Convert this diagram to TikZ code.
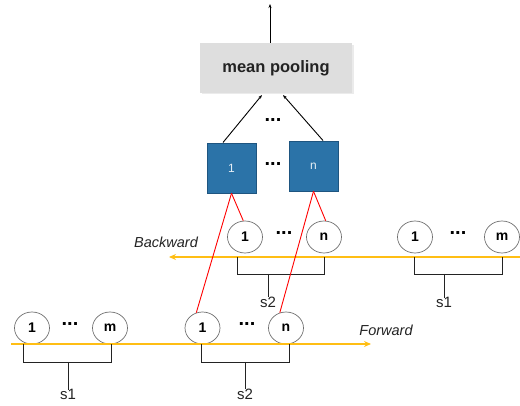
\documentclass[tikz,border=0pt]{standalone}
\usepackage{fontspec}
\setmainfont{Liberation Sans}
\usetikzlibrary{arrows.meta,shapes.geometric}
\definecolor{boxblue}{RGB}{43,115,168}
\definecolor{boxblueedge}{RGB}{30,85,128}
\definecolor{poolgray}{RGB}{222,222,222}
\definecolor{amber}{RGB}{255,190,20}
\definecolor{ringgray}{RGB}{110,110,110}
\definecolor{inkdark}{RGB}{35,35,35}
\begin{document}
\begin{tikzpicture}[x=1pt,y=-1pt,
  poolbox/.style={rectangle,fill=poolgray,minimum width=152pt,minimum height=50pt,inner sep=0pt,
    font=\fontsize{16.5}{19}\selectfont\bfseries,text=inkdark},
  bluebox/.style={rectangle,fill=boxblue,draw=boxblueedge,line width=0.6pt,minimum width=49pt,minimum height=50pt,inner sep=0pt,
    font=\fontsize{12}{14}\selectfont,text=white!88!boxblue},
  tok/.style={ellipse,draw=ringgray,line width=0.7pt,fill=white,minimum width=35pt,minimum height=32pt,inner sep=0pt,
    font=\fontsize{14}{16}\selectfont\bfseries,text=black},
  dotsnode/.style={inner sep=0pt,font=\fontsize{20}{20}\selectfont\bfseries,text=black},
  seglabel/.style={inner sep=0pt,font=\fontsize{15}{17}\selectfont,text=inkdark},
  dirlabel/.style={inner sep=0pt,font=\fontsize{14.5}{17}\selectfont\itshape,text=inkdark},
  bracket/.style={draw=inkdark,line width=0.9pt},
  redline/.style={draw=red,line width=0.9pt},
  flow/.style={draw=amber,line width=1.6pt,-{Stealth[length=7pt,width=6pt]}},
  feed/.style={draw=black,line width=0.9pt,-{Stealth[length=4pt,width=3pt]}}
]
\useasboundingbox (0,0) rectangle (520,406);

% mean pooling box with soft shadow
\fill[black!8] (202,45) rectangle (353.5,94.5);
\node[poolbox] (pool) at (276,68) {mean pooling};
\coordinate (out) at (270,4);
\draw[feed] (pool.north -| out) -- (out);

% blue squares
\node[bluebox] (sq1) at (231.5,168) {1};
\node[bluebox] (sqn) at (313.5,166) {n};
\node[dotsnode] (sqdots) at (273,164) {...};
\node[dotsnode] (pooldots) at (273,120) {...};
\coordinate (p1) at (262,95);
\coordinate (p2) at (283,95);
\draw[feed] (223,142.5) -- (p1);
\draw[feed] (323,140.5) -- (p2);

% backward row
\node[tok] (b1) at (245,237) {1};
\node[tok] (bn) at (324,237) {n};
\node[dotsnode] (bdots1) at (284,233) {...};
\node[tok] (c1) at (415,237) {1};
\node[tok] (cm) at (502,237) {m};
\node[dotsnode] (bdots2) at (458,233) {...};
\coordinate (bstart) at (520,257);
\coordinate (bend) at (169,257);
\draw[flow] (bstart) -- (bend);
\node[dirlabel] (back) at (166,242) {Backward};

% backward brackets
\node[seglabel] (bs2) at (268,302) {s2};
\node[seglabel] (bs1) at (444,302) {s1};
\draw[bracket] (237,257) -- (237,274) -- (324,274) -- (324,257);
\draw[bracket] (bs2.north |- 0,274) -- ([yshift=-1pt]bs2.north);
\draw[bracket] (414,257) -- (414,274) -- (502,274) -- (502,257);
\draw[bracket] (bs1.north |- 0,274) -- ([yshift=-1pt]bs1.north);

% forward row
\node[tok] (f1) at (32,328) {1};
\node[tok] (fm) at (110,328) {m};
\node[dotsnode] (fdots1) at (70,324) {...};
\node[tok] (g1) at (202.5,328) {1};
\node[tok] (gn) at (286,328) {n};
\node[dotsnode] (fdots2) at (247,324) {...};
\coordinate (fstart) at (11,344);
\coordinate (fend) at (371,344);
\draw[flow] (fstart) -- (fend);
\node[dirlabel] (fwd) at (386,330) {Forward};

% forward brackets
\node[seglabel] (fs1) at (68,394) {s1};
\node[seglabel] (fs2) at (245,394) {s2};
\draw[bracket] (23,344) -- (23,362) -- (111,362) -- (111,344);
\draw[bracket] (fs1.north |- 0,362) -- ([yshift=-1pt]fs1.north);
\draw[bracket] (201,344) -- (201,362) -- (289,362) -- (289,344);
\draw[bracket] (fs2.north |- 0,362) -- ([yshift=-1pt]fs2.north);

% red links
\draw[redline] (sq1.south) -- (b1.96);
\draw[redline] (sq1.south) -- (g1.112);
\draw[redline] (sqn.south) -- (bn.84);
\draw[redline] (sqn.south) -- (gn.112);
\end{tikzpicture}
\end{document}
